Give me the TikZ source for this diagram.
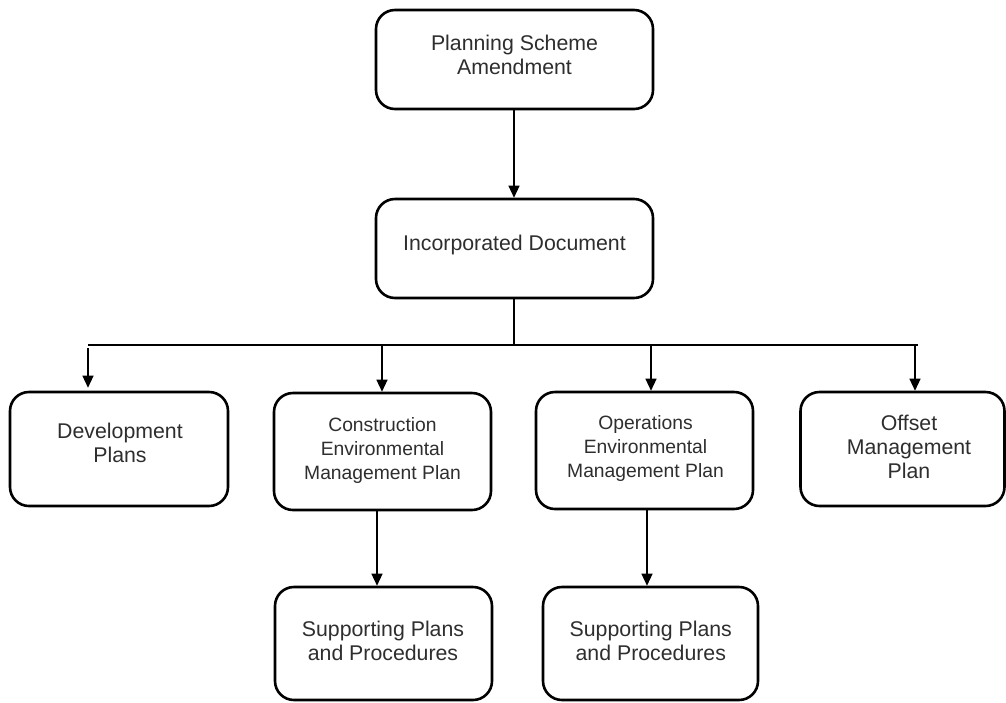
\documentclass[tikz,border=0pt]{standalone}
\usepackage{fontspec}
\setmainfont{Liberation Sans}
\usetikzlibrary{arrows.meta}
\begin{document}
\begin{tikzpicture}[x=1pt,y=-1pt,
  box/.style={draw=black,line width=2.6pt,rounded corners=19pt,inner sep=0pt,fill=white},
  txt/.style={anchor=north,inner sep=0pt,align=center,text=black!82,font=\fontsize{21.3}{24}\selectfont},
  txts/.style={txt,font=\fontsize{19.3}{24}\selectfont},
  arr/.style={line width=1.3pt,-{Triangle[width=11pt,length=12pt]}},
  ln/.style={line width=1.3pt}]
\useasboundingbox[fill=white] (0,0) rectangle (1006,702);
% boxes
\node[box,minimum width=277pt,minimum height=99pt] (psa) at (514.5,59.5) {};
\node[box,minimum width=277pt,minimum height=99pt] (inc) at (514.5,248.5) {};
\node[box,minimum width=218pt,minimum height=114pt] (dev) at (119,449) {};
\node[box,minimum width=217pt,minimum height=117pt] (cem) at (382.5,451.5) {};
\node[box,minimum width=217pt,minimum height=117pt] (oem) at (644.5,450.5) {};
\node[box,minimum width=204pt,minimum height=114pt] (off) at (902.5,449) {};
\node[box,minimum width=217pt,minimum height=113pt] (sp1) at (383.5,643.5) {};
\node[box,minimum width=215pt,minimum height=113pt] (sp2) at (650.5,643.5) {};
% texts
\node[txt] (psat) at (514.5,34.5) {Planning Scheme\\Amendment};
\node[txt] (inct) at (514.5,235) {Incorporated Document};
\node[txt] (devt) at (120,423) {Development\\Plans};
\node[txts] (cemt) at (382.5,417) {Construction\\Environmental\\Management Plan};
\node[txts] (oemt) at (645.5,415.5) {Operations\\Environmental\\Management Plan};
\node[txt] (offt) at (909,415) {Offset\\Management\\Plan};
\node[txt] (sp1t) at (383,620.5) {Supporting Plans\\and Procedures};
\node[txt] (sp2t) at (650.8,620.5) {Supporting Plans\\and Procedures};
% connectors
\coordinate (jc) at (514,345);
\coordinate (jl) at (88,345);
\coordinate (jr) at (918,345);
\coordinate (d1) at (88,348);
\coordinate (d2) at (382,345);
\coordinate (d3) at (651,345);
\coordinate (d4) at (915,345);
\coordinate (c1) at (377,0);
\coordinate (c2) at (647,0);
\draw[arr] (psa.south -| jc) -- (inc.north -| jc);
\draw[ln] (inc.south -| jc) -- (jc);
\draw[ln] (jl) -- (jr);
\draw[arr] (d1) -- ([yshift=3pt]dev.north -| d1);
\draw[arr] (d2) -- (cem.north -| d2);
\draw[arr] (d3) -- (oem.north -| d3);
\draw[arr] (d4) -- (off.north -| d4);
\draw[arr] (cem.south -| c1) -- (sp1.north -| c1);
\draw[arr] (oem.south -| c2) -- (sp2.north -| c2);
\end{tikzpicture}
\end{document}
